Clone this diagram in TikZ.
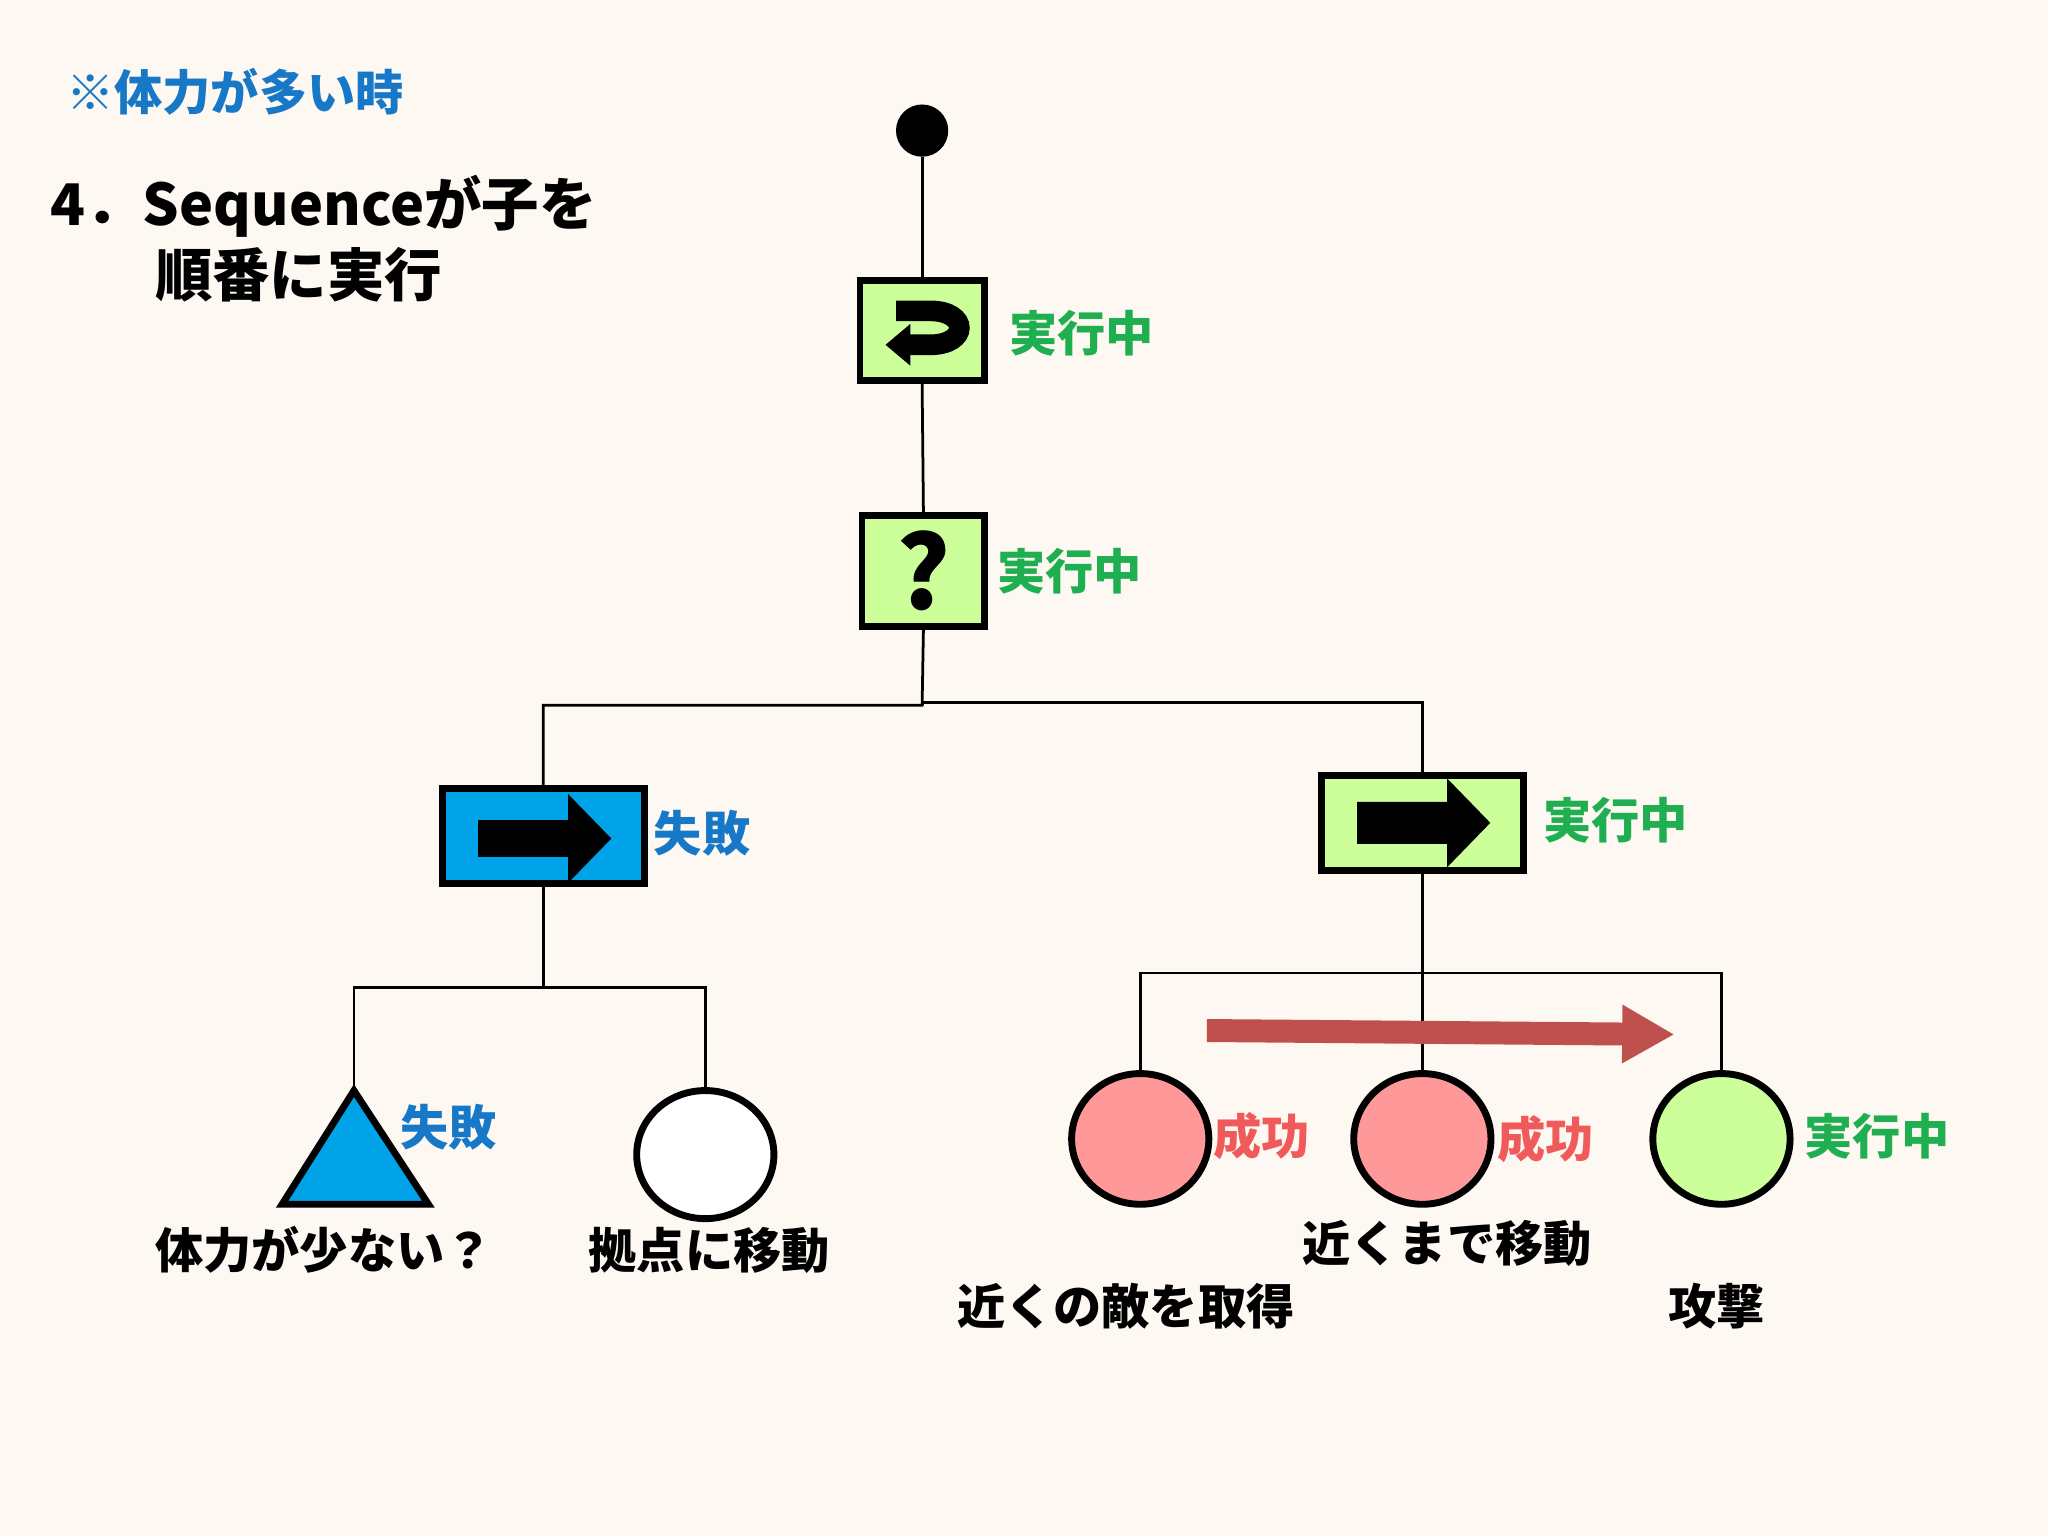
\documentclass[tikz,border=0pt]{standalone}
\usepackage{fontspec}
\setmainfont{Noto Sans CJK JP}[BoldFont={* Black}]
\usetikzlibrary{arrows.meta,shapes.geometric}
\definecolor{bg}{HTML}{FDF8F2}
\definecolor{lg}{HTML}{CCFF99}
\definecolor{gt}{HTML}{1FAF50}
\definecolor{bt}{HTML}{1878C8}
\definecolor{bf}{HTML}{00A2E8}
\definecolor{pk}{HTML}{FF9999}
\definecolor{rt}{HTML}{F05A5A}
\definecolor{ra}{HTML}{C0504D}
\begin{document}
\begin{tikzpicture}[x=0.01cm,y=-0.01cm,
  box/.style={draw,line width=1.5pt,minimum width=#1},
  lab/.style={font=\bfseries\fontsize{10.5pt}{12pt}\selectfont,anchor=west,inner sep=0pt},
  txt/.style={font=\bfseries\fontsize{10.5pt}{12pt}\selectfont},
  head/.style={font=\bfseries\fontsize{12.5pt}{14pt}\selectfont,anchor=west,inner sep=0pt},
  edge/.style={line width=0.6pt}]
\fill[bg] (0,0) rectangle (1568,1176);
\node[txt,text=bt,anchor=west,inner sep=0pt] (t0) at (50,70) {※体力が多い時};
\node[head] (t1) at (38,158) {4．Sequenceが子を};
\node[head] (t2) at (118,210) {順番に実行};
% root
\fill (706,100) circle (20); \coordinate (root) at (706,120);
% repeater
\node[box,fill=lg,minimum width=0.95cm,minimum height=0.76cm] (rep) at (706,253) {};
\draw[line width=4.5pt] (686,238) -- (712,238) .. controls (742,238) and (742,264) .. (712,264) -- (692,264);
\fill (678,264) -- (697,248) -- (697,280) -- cycle;
\node[lab,text=gt] at (772,255) {実行中};
% selector
\node[box,fill=lg,minimum width=0.94cm,minimum height=0.75cm,font=\bfseries\fontsize{22pt}{22pt}\selectfont] (sel) at (707,437) {?};
\node[lab,text=gt] at (763,437) {実行中};
% sequences
\node[box,fill=bf,minimum width=1.55cm,minimum height=0.73cm] (s1) at (416,640) {};
\fill (366,628) -- (435,628) -- (435,608) -- (468,642) -- (435,676) -- (435,656) -- (366,656) -- cycle;
\node[lab,text=bt] at (500,638) {失敗};
\node[box,fill=lg,minimum width=1.55cm,minimum height=0.73cm] (s2) at (1089,630) {};
\fill (1039,614) -- (1108,614) -- (1108,596) -- (1141,630) -- (1108,664) -- (1108,646) -- (1039,646) -- cycle;
\node[lab,text=gt] at (1181,628) {実行中};
% leaves
\draw[line width=1.5pt,fill=bf] (271,835) -- (328,922) -- (216,922) -- cycle;
\coordinate (tri) at (271,835);
\node[lab,text=bt] at (306,863) {失敗};
\node[txt] at (248,957) {体力が少ない？};
\node[draw,line width=1.5pt,fill=white,ellipse,minimum width=1.05cm,minimum height=0.98cm] (c0) at (540,884) {};
\node[txt] at (543,957) {拠点に移動};
\node[draw,line width=1.5pt,fill=pk,ellipse,minimum width=1.05cm,minimum height=1.0cm] (c1) at (873,872) {};
\node[draw,line width=1.5pt,fill=pk,ellipse,minimum width=1.05cm,minimum height=1.0cm] (c2) at (1089,872) {};
\node[draw,line width=1.5pt,fill=lg,ellipse,minimum width=1.05cm,minimum height=1.0cm] (c3) at (1318,872) {};
\node[lab,text=rt] at (928,870) {成功};
\node[lab,text=rt] at (1146,872) {成功};
\node[lab,text=gt] at (1381,870) {実行中};
\node[txt] at (862,1000) {近くの敵を取得};
\node[txt] at (1108,952) {近くまで移動};
\node[txt] at (1314,1000) {攻撃};
% edges
\draw[edge] (root) -- (rep.north);
\draw[edge] (rep.south) -- (sel.north);
\draw[edge] (sel.south) -- (706,540) -| (s1.north);
\draw[edge] (706,540) -- (706,538) -| (s2.north);
\draw[edge] (s1.south) -- (416,756) -| (tri);
\draw[edge] (416,756) -| (c0.north);
\draw[edge] (s2.south) -- (1089,745) -| (c1.north);
\draw[edge] (1089,745) -| (c3.north);
\draw[edge] (1089,745) -- (c2.north);
\coordinate (a1) at (924,789); \coordinate (a2) at (1282,792);
\draw[ra,line width=5pt,-{Triangle[length=0.4cm,width=0.42cm]}] (a1) -- (a2);
\end{tikzpicture}
\end{document}
